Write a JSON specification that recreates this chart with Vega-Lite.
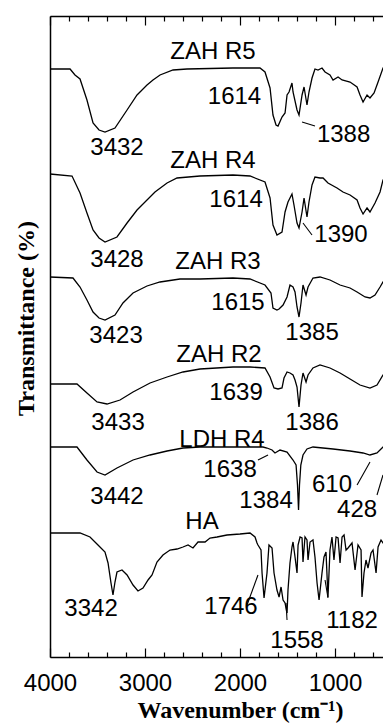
{
  "$schema": "https://vega.github.io/schema/vega-lite/v6.json",
  "autosize": "none",
  "width": 333,
  "height": 641,
  "padding": {"left": 50, "top": 16, "right": 0, "bottom": 71},
  "config": {
    "view": {"stroke": null},
    "axis": {"domainColor": "black", "domainWidth": 1.5, "tickColor": "black", "tickWidth": 1.2, "labelColor": "black", "titleColor": "black", "grid": false}
  },
  "datasets": {
    "spectra": [
      {"s":"ZAH R5","w":4000,"t":631},{"s":"ZAH R5","w":3789,"t":631},{"s":"ZAH R5","w":3737,"t":625},{"s":"ZAH R5","w":3684,"t":621},{"s":"ZAH R5","w":3611,"t":600},{"s":"ZAH R5","w":3547,"t":577},{"s":"ZAH R5","w":3484,"t":570},{"s":"ZAH R5","w":3421,"t":568},{"s":"ZAH R5","w":3316,"t":572},{"s":"ZAH R5","w":3189,"t":590},{"s":"ZAH R5","w":3084,"t":605},{"s":"ZAH R5","w":2979,"t":615},{"s":"ZAH R5","w":2916,"t":620},{"s":"ZAH R5","w":2842,"t":625},{"s":"ZAH R5","w":2705,"t":630},{"s":"ZAH R5","w":2558,"t":631},{"s":"ZAH R5","w":2074,"t":632},{"s":"ZAH R5","w":1790,"t":632},{"s":"ZAH R5","w":1737,"t":628},{"s":"ZAH R5","w":1684,"t":612},{"s":"ZAH R5","w":1653,"t":585},{"s":"ZAH R5","w":1621,"t":575},{"s":"ZAH R5","w":1600,"t":574},{"s":"ZAH R5","w":1558,"t":583},{"s":"ZAH R5","w":1526,"t":587},{"s":"ZAH R5","w":1505,"t":605},{"s":"ZAH R5","w":1484,"t":608},{"s":"ZAH R5","w":1453,"t":617},{"s":"ZAH R5","w":1442,"t":608},{"s":"ZAH R5","w":1400,"t":590},{"s":"ZAH R5","w":1379,"t":585},{"s":"ZAH R5","w":1347,"t":605},{"s":"ZAH R5","w":1326,"t":613},{"s":"ZAH R5","w":1295,"t":595},{"s":"ZAH R5","w":1274,"t":608},{"s":"ZAH R5","w":1242,"t":622},{"s":"ZAH R5","w":1211,"t":631},{"s":"ZAH R5","w":1179,"t":630},{"s":"ZAH R5","w":1137,"t":632},{"s":"ZAH R5","w":1105,"t":628},{"s":"ZAH R5","w":1053,"t":625},{"s":"ZAH R5","w":1021,"t":620},{"s":"ZAH R5","w":968,"t":623},{"s":"ZAH R5","w":926,"t":620},{"s":"ZAH R5","w":842,"t":618},{"s":"ZAH R5","w":768,"t":613},{"s":"ZAH R5","w":737,"t":605},{"s":"ZAH R5","w":705,"t":598},{"s":"ZAH R5","w":663,"t":605},{"s":"ZAH R5","w":632,"t":602},{"s":"ZAH R5","w":589,"t":607},{"s":"ZAH R5","w":547,"t":618},{"s":"ZAH R5","w":495,"t":632},{"s":"ZAH R5","w":420,"t":640},
      {"s":"ZAH R4","w":4000,"t":526},{"s":"ZAH R4","w":3768,"t":524},{"s":"ZAH R4","w":3684,"t":507},{"s":"ZAH R4","w":3611,"t":487},{"s":"ZAH R4","w":3547,"t":470},{"s":"ZAH R4","w":3484,"t":462},{"s":"ZAH R4","w":3421,"t":458},{"s":"ZAH R4","w":3295,"t":463},{"s":"ZAH R4","w":3189,"t":477},{"s":"ZAH R4","w":3084,"t":490},{"s":"ZAH R4","w":2979,"t":500},{"s":"ZAH R4","w":2895,"t":508},{"s":"ZAH R4","w":2768,"t":517},{"s":"ZAH R4","w":2663,"t":522},{"s":"ZAH R4","w":2421,"t":524},{"s":"ZAH R4","w":2074,"t":525},{"s":"ZAH R4","w":1895,"t":524},{"s":"ZAH R4","w":1737,"t":518},{"s":"ZAH R4","w":1684,"t":502},{"s":"ZAH R4","w":1653,"t":475},{"s":"ZAH R4","w":1611,"t":465},{"s":"ZAH R4","w":1558,"t":468},{"s":"ZAH R4","w":1526,"t":488},{"s":"ZAH R4","w":1495,"t":498},{"s":"ZAH R4","w":1453,"t":506},{"s":"ZAH R4","w":1432,"t":495},{"s":"ZAH R4","w":1400,"t":477},{"s":"ZAH R4","w":1379,"t":472},{"s":"ZAH R4","w":1347,"t":488},{"s":"ZAH R4","w":1326,"t":502},{"s":"ZAH R4","w":1295,"t":483},{"s":"ZAH R4","w":1274,"t":498},{"s":"ZAH R4","w":1242,"t":515},{"s":"ZAH R4","w":1211,"t":523},{"s":"ZAH R4","w":1158,"t":522},{"s":"ZAH R4","w":1126,"t":522},{"s":"ZAH R4","w":1074,"t":517},{"s":"ZAH R4","w":979,"t":512},{"s":"ZAH R4","w":916,"t":508},{"s":"ZAH R4","w":842,"t":505},{"s":"ZAH R4","w":768,"t":500},{"s":"ZAH R4","w":737,"t":492},{"s":"ZAH R4","w":705,"t":486},{"s":"ZAH R4","w":663,"t":492},{"s":"ZAH R4","w":632,"t":488},{"s":"ZAH R4","w":579,"t":497},{"s":"ZAH R4","w":526,"t":508},{"s":"ZAH R4","w":495,"t":520},{"s":"ZAH R4","w":420,"t":530},
      {"s":"ZAH R3","w":4000,"t":423},{"s":"ZAH R3","w":3758,"t":422},{"s":"ZAH R3","w":3684,"t":413},{"s":"ZAH R3","w":3611,"t":400},{"s":"ZAH R3","w":3547,"t":388},{"s":"ZAH R3","w":3484,"t":382},{"s":"ZAH R3","w":3421,"t":380},{"s":"ZAH R3","w":3316,"t":385},{"s":"ZAH R3","w":3232,"t":397},{"s":"ZAH R3","w":3126,"t":407},{"s":"ZAH R3","w":2979,"t":414},{"s":"ZAH R3","w":2842,"t":418},{"s":"ZAH R3","w":2632,"t":421},{"s":"ZAH R3","w":2421,"t":421},{"s":"ZAH R3","w":2074,"t":422},{"s":"ZAH R3","w":1895,"t":421},{"s":"ZAH R3","w":1737,"t":415},{"s":"ZAH R3","w":1674,"t":407},{"s":"ZAH R3","w":1653,"t":392},{"s":"ZAH R3","w":1611,"t":390},{"s":"ZAH R3","w":1589,"t":391},{"s":"ZAH R3","w":1547,"t":395},{"s":"ZAH R3","w":1505,"t":403},{"s":"ZAH R3","w":1474,"t":415},{"s":"ZAH R3","w":1442,"t":413},{"s":"ZAH R3","w":1421,"t":408},{"s":"ZAH R3","w":1400,"t":393},{"s":"ZAH R3","w":1379,"t":383},{"s":"ZAH R3","w":1358,"t":397},{"s":"ZAH R3","w":1337,"t":415},{"s":"ZAH R3","w":1305,"t":405},{"s":"ZAH R3","w":1284,"t":413},{"s":"ZAH R3","w":1232,"t":422},{"s":"ZAH R3","w":1158,"t":423},{"s":"ZAH R3","w":1053,"t":420},{"s":"ZAH R3","w":947,"t":415},{"s":"ZAH R3","w":842,"t":412},{"s":"ZAH R3","w":768,"t":408},{"s":"ZAH R3","w":684,"t":403},{"s":"ZAH R3","w":632,"t":402},{"s":"ZAH R3","w":579,"t":405},{"s":"ZAH R3","w":526,"t":413},{"s":"ZAH R3","w":495,"t":418},{"s":"ZAH R3","w":420,"t":425},
      {"s":"ZAH R2","w":4000,"t":316},{"s":"ZAH R2","w":3716,"t":316},{"s":"ZAH R2","w":3611,"t":307},{"s":"ZAH R2","w":3505,"t":298},{"s":"ZAH R2","w":3400,"t":296},{"s":"ZAH R2","w":3263,"t":300},{"s":"ZAH R2","w":3126,"t":308},{"s":"ZAH R2","w":2947,"t":317},{"s":"ZAH R2","w":2768,"t":323},{"s":"ZAH R2","w":2600,"t":328},{"s":"ZAH R2","w":2421,"t":331},{"s":"ZAH R2","w":2074,"t":333},{"s":"ZAH R2","w":1895,"t":333},{"s":"ZAH R2","w":1737,"t":332},{"s":"ZAH R2","w":1684,"t":323},{"s":"ZAH R2","w":1642,"t":312},{"s":"ZAH R2","w":1600,"t":311},{"s":"ZAH R2","w":1558,"t":312},{"s":"ZAH R2","w":1537,"t":322},{"s":"ZAH R2","w":1505,"t":328},{"s":"ZAH R2","w":1474,"t":327},{"s":"ZAH R2","w":1442,"t":325},{"s":"ZAH R2","w":1421,"t":320},{"s":"ZAH R2","w":1400,"t":313},{"s":"ZAH R2","w":1379,"t":293},{"s":"ZAH R2","w":1358,"t":315},{"s":"ZAH R2","w":1337,"t":327},{"s":"ZAH R2","w":1305,"t":318},{"s":"ZAH R2","w":1284,"t":325},{"s":"ZAH R2","w":1232,"t":332},{"s":"ZAH R2","w":1158,"t":335},{"s":"ZAH R2","w":1053,"t":332},{"s":"ZAH R2","w":947,"t":327},{"s":"ZAH R2","w":842,"t":321},{"s":"ZAH R2","w":737,"t":315},{"s":"ZAH R2","w":632,"t":312},{"s":"ZAH R2","w":558,"t":315},{"s":"ZAH R2","w":495,"t":325},{"s":"ZAH R2","w":420,"t":330},
      {"s":"LDH R4","w":4000,"t":253},{"s":"LDH R4","w":3716,"t":253},{"s":"LDH R4","w":3611,"t":240},{"s":"LDH R4","w":3505,"t":228},{"s":"LDH R4","w":3421,"t":225},{"s":"LDH R4","w":3295,"t":232},{"s":"LDH R4","w":3126,"t":240},{"s":"LDH R4","w":2947,"t":245},{"s":"LDH R4","w":2768,"t":249},{"s":"LDH R4","w":2600,"t":252},{"s":"LDH R4","w":2421,"t":253},{"s":"LDH R4","w":2074,"t":253},{"s":"LDH R4","w":1758,"t":253},{"s":"LDH R4","w":1716,"t":252},{"s":"LDH R4","w":1663,"t":250},{"s":"LDH R4","w":1632,"t":247},{"s":"LDH R4","w":1579,"t":250},{"s":"LDH R4","w":1505,"t":248},{"s":"LDH R4","w":1442,"t":240},{"s":"LDH R4","w":1410,"t":235},{"s":"LDH R4","w":1395,"t":215},{"s":"LDH R4","w":1384,"t":190},{"s":"LDH R4","w":1374,"t":215},{"s":"LDH R4","w":1360,"t":235},{"s":"LDH R4","w":1337,"t":245},{"s":"LDH R4","w":1295,"t":251},{"s":"LDH R4","w":1232,"t":253},{"s":"LDH R4","w":1021,"t":251},{"s":"LDH R4","w":842,"t":249},{"s":"LDH R4","w":705,"t":247},{"s":"LDH R4","w":632,"t":245},{"s":"LDH R4","w":558,"t":247},{"s":"LDH R4","w":495,"t":253},{"s":"LDH R4","w":420,"t":258},
      {"s":"HA","w":4000,"t":167},{"s":"HA","w":3684,"t":167},{"s":"HA","w":3579,"t":163},{"s":"HA","w":3495,"t":155},{"s":"HA","w":3421,"t":148},{"s":"HA","w":3389,"t":137},{"s":"HA","w":3358,"t":117},{"s":"HA","w":3337,"t":105},{"s":"HA","w":3316,"t":118},{"s":"HA","w":3295,"t":128},{"s":"HA","w":3242,"t":130},{"s":"HA","w":3189,"t":125},{"s":"HA","w":3126,"t":115},{"s":"HA","w":3074,"t":109},{"s":"HA","w":3021,"t":112},{"s":"HA","w":2968,"t":120},{"s":"HA","w":2926,"t":125},{"s":"HA","w":2874,"t":138},{"s":"HA","w":2811,"t":145},{"s":"HA","w":2737,"t":150},{"s":"HA","w":2663,"t":151},{"s":"HA","w":2600,"t":153},{"s":"HA","w":2547,"t":155},{"s":"HA","w":2495,"t":152},{"s":"HA","w":2442,"t":158},{"s":"HA","w":2368,"t":158},{"s":"HA","w":2316,"t":162},{"s":"HA","w":2242,"t":163},{"s":"HA","w":2137,"t":165},{"s":"HA","w":2000,"t":166},{"s":"HA","w":1895,"t":167},{"s":"HA","w":1842,"t":163},{"s":"HA","w":1821,"t":157},{"s":"HA","w":1811,"t":155},{"s":"HA","w":1779,"t":150},{"s":"HA","w":1768,"t":127},{"s":"HA","w":1747,"t":102},{"s":"HA","w":1716,"t":127},{"s":"HA","w":1695,"t":155},{"s":"HA","w":1663,"t":152},{"s":"HA","w":1642,"t":127},{"s":"HA","w":1611,"t":110},{"s":"HA","w":1589,"t":103},{"s":"HA","w":1568,"t":113},{"s":"HA","w":1547,"t":100},{"s":"HA","w":1526,"t":97},{"s":"HA","w":1505,"t":87},{"s":"HA","w":1495,"t":110},{"s":"HA","w":1474,"t":137},{"s":"HA","w":1453,"t":153},{"s":"HA","w":1442,"t":158},{"s":"HA","w":1421,"t":143},{"s":"HA","w":1400,"t":127},{"s":"HA","w":1389,"t":155},{"s":"HA","w":1368,"t":163},{"s":"HA","w":1347,"t":162},{"s":"HA","w":1337,"t":138},{"s":"HA","w":1316,"t":163},{"s":"HA","w":1295,"t":160},{"s":"HA","w":1284,"t":140},{"s":"HA","w":1263,"t":158},{"s":"HA","w":1232,"t":160},{"s":"HA","w":1211,"t":143},{"s":"HA","w":1189,"t":117},{"s":"HA","w":1168,"t":100},{"s":"HA","w":1137,"t":127},{"s":"HA","w":1116,"t":143},{"s":"HA","w":1095,"t":148},{"s":"HA","w":1074,"t":103},{"s":"HA","w":1053,"t":150},{"s":"HA","w":1032,"t":163},{"s":"HA","w":1011,"t":140},{"s":"HA","w":989,"t":163},{"s":"HA","w":968,"t":162},{"s":"HA","w":947,"t":137},{"s":"HA","w":926,"t":163},{"s":"HA","w":905,"t":165},{"s":"HA","w":884,"t":150},{"s":"HA","w":863,"t":152},{"s":"HA","w":821,"t":157},{"s":"HA","w":789,"t":130},{"s":"HA","w":758,"t":155},{"s":"HA","w":726,"t":150},{"s":"HA","w":716,"t":103},{"s":"HA","w":695,"t":127},{"s":"HA","w":674,"t":140},{"s":"HA","w":653,"t":132},{"s":"HA","w":621,"t":147},{"s":"HA","w":600,"t":150},{"s":"HA","w":568,"t":127},{"s":"HA","w":547,"t":153},{"s":"HA","w":516,"t":160},{"s":"HA","w":495,"t":157},{"s":"HA","w":420,"t":160}
    ],
    "names": [
      {"label":"ZAH R5","w":2284,"t":648},{"label":"ZAH R4","w":2284,"t":539},{"label":"ZAH R3","w":2232,"t":438},{"label":"ZAH R2","w":2221,"t":345},{"label":"LDH R4","w":2190,"t":260},{"label":"HA","w":2400,"t":178}
    ],
    "peaks": [
      {"label":"3432","w":3295,"t":552},{"label":"1614","w":2058,"t":603},{"label":"1388","w":910,"t":565},
      {"label":"3428","w":3295,"t":440},{"label":"1614","w":2042,"t":500},{"label":"1390","w":937,"t":465},
      {"label":"3423","w":3305,"t":364},{"label":"1615","w":2021,"t":397},{"label":"1385","w":1242,"t":367},
      {"label":"3433","w":3284,"t":277},{"label":"1639","w":2042,"t":307},{"label":"1386","w":1242,"t":277},
      {"label":"3442","w":3295,"t":203},{"label":"1638","w":2105,"t":230},{"label":"1384","w":1726,"t":199},{"label":"610","w":1032,"t":215},{"label":"428","w":768,"t":190},
      {"label":"3342","w":3568,"t":91},{"label":"1746","w":2095,"t":93},{"label":"1558","w":1400,"t":59},{"label":"1182","w":821,"t":79}
    ],
    "pointers": [
      {"peak":"1388","w1":1347,"t1":578,"w2":1211,"t2":574},
      {"peak":"1390","w1":1337,"t1":477,"w2":1242,"t2":465},
      {"peak":"1638","w1":1811,"t1":240,"w2":1705,"t2":245},
      {"peak":"610","w1":768,"t1":215,"w2":632,"t2":238},
      {"peak":"428","w1":558,"t1":205,"w2":495,"t2":225},
      {"peak":"1746","w1":1926,"t1":95,"w2":1811,"t2":125},
      {"peak":"1558","w1":1505,"t1":80,"w2":1516,"t2":97},
      {"peak":"1182","w1":1074,"t1":102,"w2":1105,"t2":120}
    ]
  },
  "resolve": {"axis": {"x": "independent", "y": "independent"}},
  "layer": [
    {
      "data": {"name": "spectra"},
      "mark": {"type": "line", "color": "black", "strokeWidth": 1.3, "clip": true},
      "encoding": {
        "x": {"field": "w", "type": "quantitative", "scale": {"domain": [495, 4000], "reverse": true, "nice": false, "zero": false},
              "axis": {"orient": "bottom", "values": [4000,3800,3600,3400,3200,3000,2800,2600,2400,2200,2000,1800,1600,1400,1200,1000,800,600],
                       "tickSize": {"condition": {"test": "datum.value % 1000 === 0", "value": -9}, "value": -5},
                       "labelExpr": "datum.value % 1000 === 0 ? format(datum.value, 'd') : ''",
                       "labelFont": "Liberation Sans", "labelFontSize": 24, "labelPadding": 23, "labelFlush": false, "labelOverlap": false, "domain": true,
                       "title": "Wavenumber (cm⁻¹)", "titleFont": "Liberation Serif", "titleFontWeight": "bold", "titleFontSize": 24, "titleX": 190, "titleY": 60, "titleBaseline": "alphabetic", "titleAlign": "center"}},
        "y": {"field": "t", "type": "quantitative", "scale": {"domain": [43, 684], "nice": false, "zero": false},
              "axis": {"orient": "left", "ticks": false, "labels": false, "domain": true, "title": "Transmittance (%)", "titleFont": "Liberation Serif", "titleFontWeight": "bold", "titleFontSize": 24, "titleAngle": -90, "titleX": -17, "titleY": 302, "titleBaseline": "alphabetic", "titleAlign": "center"}},
        "detail": {"field": "s"}
      }
    },
    {
      "data": {"name": "names"},
      "mark": {"type": "text", "font": "Liberation Sans", "fontSize": 24, "color": "black", "align": "center", "baseline": "middle"},
      "encoding": {
        "x": {"field": "w", "type": "quantitative",
              "axis": {"orient": "top", "values": [4000,3800,3600,3400,3200,3000,2800,2600,2400,2200,2000,1800,1600,1400,1200,1000,800,600],
                       "tickSize": {"condition": {"test": "datum.value % 1000 === 0", "value": -9}, "value": -5},
                       "labels": false, "title": null, "domain": true}},
        "y": {"field": "t", "type": "quantitative", "axis": null},
        "text": {"field": "label"}
      }
    },
    {
      "data": {"name": "peaks"},
      "mark": {"type": "text", "font": "Liberation Sans", "fontSize": 24, "color": "black", "align": "center", "baseline": "middle"},
      "encoding": {
        "x": {"field": "w", "type": "quantitative", "axis": null},
        "y": {"field": "t", "type": "quantitative", "axis": null},
        "text": {"field": "label"}
      }
    },
    {
      "data": {"name": "pointers"},
      "mark": {"type": "rule", "color": "black", "strokeWidth": 1.1},
      "encoding": {
        "x": {"field": "w1", "type": "quantitative", "axis": null},
        "x2": {"field": "w2"},
        "y": {"field": "t1", "type": "quantitative", "axis": null},
        "y2": {"field": "t2"}
      }
    }
  ]
}
